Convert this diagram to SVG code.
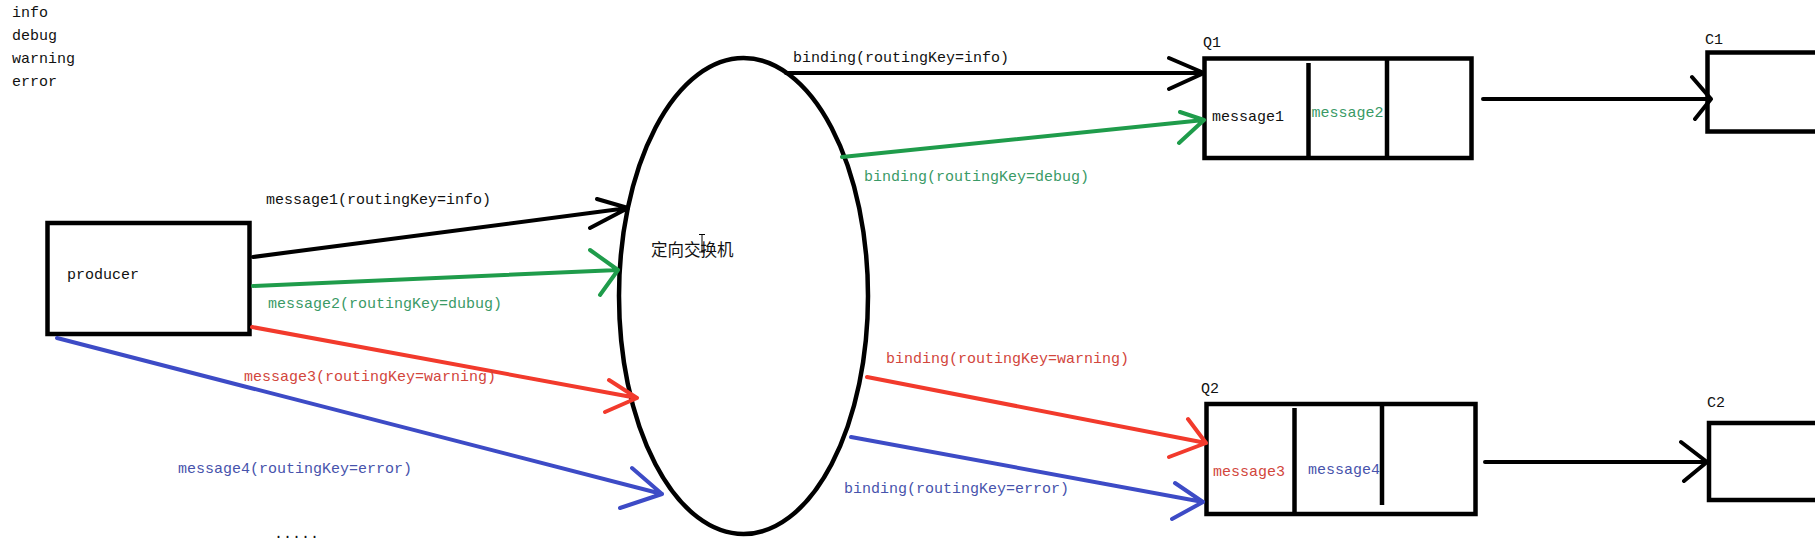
<svg xmlns="http://www.w3.org/2000/svg" width="1815" height="547" viewBox="0 0 1815 547">
<style>
.t{font-family:"Liberation Mono","DejaVu Sans Mono",monospace;font-size:15px;fill:#111}
.cjk{font-family:"Noto Sans CJK SC","Noto Sans CJK JP",sans-serif;font-size:16.5px;fill:#111}
.box{fill:none;stroke:#000;stroke-width:4.5}
.a{fill:none;stroke-width:4;stroke-linecap:round;stroke-linejoin:round}
.k{stroke:#000}
.g{stroke:#1f9c4b}
.r{stroke:#f23a2c}
.b{stroke:#3d4bc6}
.tg{fill:#3a9a66}
.tr{fill:#d2463c}
.tb{fill:#4753ac}
</style>
<rect width="1815" height="547" fill="#fff"/>

<g id="legend">
<text class="t" x="12" y="17">info</text>
<text class="t" x="12" y="40">debug</text>
<text class="t" x="12" y="63">warning</text>
<text class="t" x="12" y="86">error</text>
</g>

<g id="producer">
<rect class="box" x="47.5" y="223" width="202" height="111"/>
<text class="t" x="67" y="279">producer</text>
</g>

<g id="exchange">
<ellipse cx="743.5" cy="296" rx="124.5" ry="238" fill="none" stroke="#000" stroke-width="4.5"/>
<text class="cjk" x="651" y="256">定向交换机</text>
<path d="M699,234.5 H705 M702,234.5 V252 M699,252 H705" stroke="#000" stroke-width="1" fill="none"/>
</g>

<g id="Q1">
<text class="t" x="1203" y="47">Q1</text>
<rect class="box" x="1204.5" y="58.5" width="267" height="99.5"/>
<line class="box" x1="1308.5" y1="63" x2="1308.5" y2="158"/>
<line class="box" x1="1387" y1="58.5" x2="1387" y2="158"/>
<text class="t" x="1212" y="121">message1</text>
<text class="t tg" x="1311.5" y="117">message2</text>
</g>

<g id="Q2">
<text class="t" x="1201" y="393">Q2</text>
<rect class="box" x="1206.5" y="404" width="269" height="110"/>
<line class="box" x1="1294.5" y1="408" x2="1294.5" y2="514"/>
<line class="box" x1="1382" y1="404" x2="1382" y2="505"/>
<text class="t tr" x="1213" y="476">message3</text>
<text class="t tb" x="1308" y="474">message4</text>
</g>

<g id="C1">
<text class="t" x="1705" y="44">C1</text>
<rect class="box" x="1707.5" y="52.5" width="130" height="79"/>
</g>

<g id="C2">
<text class="t" x="1707" y="407">C2</text>
<rect class="box" x="1709" y="423" width="130" height="77"/>
</g>

<g id="connectors">
<path class="a k" d="M253,257 L628,208 M597,199 L628,208 L590,228"/>
<text class="t" x="266" y="204">message1(routingKey=info)</text>
<path class="a g" d="M253,286 L618,270 M590,250 L618,270 L600,295"/>
<text class="t tg" x="268" y="308">message2(routingKey=dubug)</text>
<path class="a r" d="M252,327 L637,398 M609,380 L637,398 L605,412"/>
<text class="t tr" x="244" y="381">message3(routingKey=warning)</text>
<path class="a b" d="M57,338 L662,494 M632,468 L662,494 L620,508"/>
<text class="t tb" x="178" y="473">message4(routingKey=error)</text>
<text class="t" x="274" y="538" fill="#333">.....</text>

<path class="a k" d="M786,73 L1204,73 M1169,58 L1204,73 L1169,89"/>
<text class="t" x="793" y="62">binding(routingKey=info)</text>
<path class="a g" d="M842,157 L1204,120 M1180,112 L1204,120 L1179,143"/>
<text class="t tg" x="864" y="181">binding(routingKey=debug)</text>
<path class="a r" d="M867,377 L1206,443 M1188,419 L1206,443 L1169,457"/>
<text class="t tr" x="886" y="363">binding(routingKey=warning)</text>
<path class="a b" d="M851,437 L1203,502 M1175,483 L1203,502 L1172,519"/>
<text class="t tb" x="844" y="493">binding(routingKey=error)</text>

<path class="a k" d="M1483,99 L1711,99 M1692,77 L1711,99 L1695,119"/>
<path class="a k" d="M1485,462 L1707,462 M1681,442 L1707,462 L1684,481"/>
</g>
</svg>
